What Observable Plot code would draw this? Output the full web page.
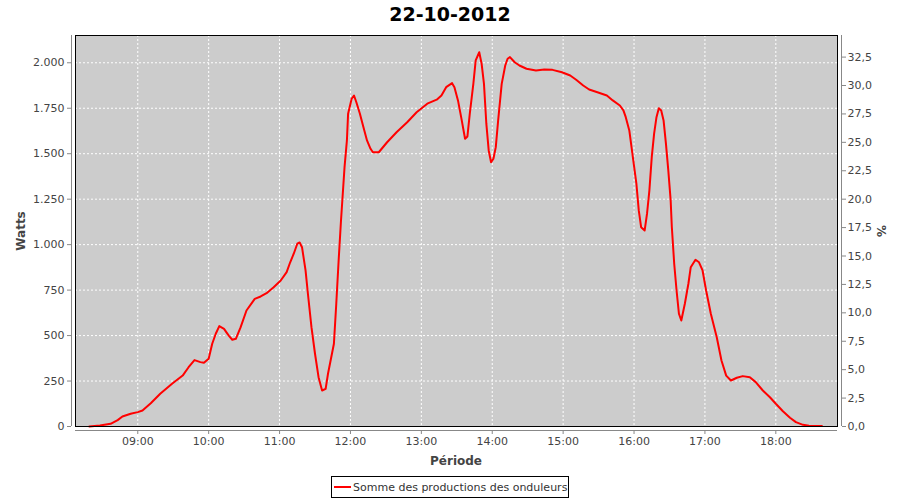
<!DOCTYPE html>
<html>
<head>
<meta charset="utf-8">
<script src="https://cdn.jsdelivr.net/npm/d3@7"></script>
<script src="https://cdn.jsdelivr.net/npm/@observablehq/plot@0.6"></script>
<style>
  html, body { margin: 0; padding: 0; background: white; }
  #wrap { position: relative; width: 900px; height: 500px; font-family: "DejaVu Sans", sans-serif; overflow: hidden; }
  #wrap svg { position: absolute; left: 0; top: 0; }
  .abs { position: absolute; white-space: nowrap; }
  #title { left: 0; width: 900px; top: 4.5px; text-align: center; font-size: 19px; line-height: 19px; font-weight: bold; color: #000; }
  #ylab { left: 21px; top: 230.5px; transform: translate(-50%, -50%) rotate(-90deg); font-size: 12px; font-weight: bold; color: #444; line-height: 12px; }
  #y2lab { left: 881px; top: 230.5px; transform: translate(-50%, -50%) rotate(90deg); font-size: 12px; font-weight: bold; color: #444; line-height: 12px; }
  #xlab { left: 456px; top: 454.5px; transform: translateX(-50%); font-size: 12px; font-weight: bold; color: #444; line-height: 12px; }
  #legend { left: 331px; top: 476px; height: 22px; box-sizing: border-box; border: 1px solid #000; display: flex; align-items: center; padding: 0 1px 0 2px; font-size: 11px; color: #333; background: white; }
  #legend .sw { display: inline-block; width: 17px; height: 2px; background: #ff0000; margin-right: 2px; }
</style>
</head>
<body>
<div id="wrap">
  <div id="title" class="abs"></div>
  <div id="ylab" class="abs"></div>
  <div id="y2lab" class="abs"></div>
  <div id="xlab" class="abs"></div>
  <div id="legend" class="abs"><span class="sw"></span><span id="legtext"></span></div>
</div>
<script>
const chartTitle = "22-10-2012";
const yLabel = "Watts";
const y2Label = "%";
const xLabel = "Période";
const seriesName = "Somme des productions des onduleurs";
const day = "2012-10-22";

const times = ["08:19","08:28","08:37","08:43","08:47","08:54","09:00","09:04","09:11","09:19","09:29","09:38","09:43","09:48","09:53","09:56","10:00","10:03","10:06","10:09","10:13","10:17","10:20","10:23","10:27","10:32","10:39","10:44","10:49","10:55","11:01","11:06","11:09","11:12","11:15","11:17","11:19","11:22","11:24","11:27","11:30","11:33","11:36","11:39","11:41","11:46","11:48","11:50","11:52","11:55","11:57","11:58","12:01","12:03","12:05","12:08","12:11","12:14","12:17","12:19","12:24","12:31","12:39","12:48","12:56","13:05","13:13","13:17","13:21","13:26","13:28","13:31","13:34","13:37","13:39","13:41","13:44","13:46","13:49","13:51","13:53","13:55","13:57","13:59","14:01","14:03","14:05","14:08","14:11","14:13","14:15","14:19","14:23","14:29","14:37","14:44","14:51","14:59","15:06","15:11","15:17","15:22","15:29","15:37","15:42","15:48","15:51","15:53","15:56","15:59","16:02","16:04","16:06","16:09","16:11","16:13","16:15","16:17","16:19","16:21","16:23","16:25","16:27","16:29","16:31","16:32","16:34","16:36","16:38","16:40","16:43","16:46","16:48","16:52","16:55","16:58","17:01","17:05","17:10","17:14","17:18","17:22","17:27","17:32","17:38","17:43","17:49","17:55","18:00","18:06","18:12","18:17","18:23","18:28","18:39"];
const watts = [0,5,15,35,55,70,79,88,128,180,235,280,326,365,354,350,372,455,510,552,537,500,477,482,545,638,702,715,733,766,803,849,903,950,1005,1012,986,858,730,546,400,271,198,207,290,455,675,913,1133,1426,1573,1720,1802,1820,1783,1720,1646,1573,1527,1508,1508,1563,1618,1673,1728,1775,1797,1820,1866,1888,1866,1793,1690,1582,1595,1720,1884,2013,2058,1995,1884,1665,1518,1453,1472,1536,1683,1884,1985,2022,2031,2003,1985,1967,1958,1963,1961,1948,1930,1907,1875,1853,1838,1820,1793,1765,1738,1701,1628,1481,1335,1188,1096,1078,1170,1298,1481,1610,1701,1750,1738,1683,1555,1408,1243,1096,895,748,620,583,675,785,876,917,903,858,748,620,491,363,280,253,268,277,271,244,198,161,125,84,48,24,9,4,3];

const hourTicks = ["09:00","10:00","11:00","12:00","13:00","14:00","15:00","16:00","17:00","18:00"];
const wattTicks = [0,250,500,750,1000,1250,1500,1750,2000];
const pctTicks = [0,2.5,5,7.5,10,12.5,15,17.5,20,22.5,25,27.5,30,32.5];
const wattsPerPct = 62.5;
const xRange = ["08:07:18", "18:52:12"];
const yMax = 2150;

document.getElementById("title").textContent = chartTitle;
document.getElementById("ylab").textContent = yLabel;
document.getElementById("y2lab").textContent = y2Label;
document.getElementById("xlab").textContent = xLabel;
document.getElementById("legtext").textContent = seriesName;

const parseHM = d3.utcParse("%Y-%m-%d %H:%M");
const parseHMS = d3.utcParse("%Y-%m-%d %H:%M:%S");
const data = times.map((t, i) => ({t: parseHM(day + " " + t), w: watts[i]}));
const hourDates = hourTicks.map(t => parseHM(day + " " + t));
const xDomain = xRange.map(t => parseHMS(day + " " + t));

const loc = d3.formatLocale({decimal: ",", thousands: ".", grouping: [3], currency: ["", "€"]});
const fmtW = loc.format(",d");
const fmtP = loc.format(",.1f");

const gridStyle = {stroke: "white", strokeOpacity: 1, strokeDasharray: "2,2", strokeWidth: 1};

const chart = Plot.plot({
  width: 900,
  height: 500,
  marginLeft: 75,
  marginRight: 63,
  marginTop: 35,
  marginBottom: 74,
  style: {fontFamily: "DejaVu Sans, sans-serif", fontSize: "11px", color: "#444", background: "transparent", overflow: "visible"},
  x: {type: "utc", domain: xDomain},
  y: {domain: [0, yMax]},
  marks: [
    Plot.frame({fill: "#cccccc", stroke: null}),
    Plot.gridX(hourDates, gridStyle),
    Plot.gridY(wattTicks, gridStyle),
    Plot.line(data, {x: "t", y: "w", stroke: "#ff0000", strokeWidth: 2}),
    Plot.frame({stroke: "#000", strokeWidth: 1}),
    Plot.ruleX([xDomain[0]], {dx: -4, stroke: "#888"}),
    Plot.ruleX([xDomain[1]], {dx: 4, stroke: "#888"}),
    Plot.ruleY([0], {dy: 4, stroke: "#888"}),
    Plot.axisY(wattTicks, {anchor: "left", tickFormat: fmtW, tickSize: 4, tickPadding: 3, dx: -4, label: null, stroke: "#888", fill: "#444"}),
    Plot.axisY(pctTicks.map(p => p * wattsPerPct), {anchor: "right", tickFormat: d => fmtP(d / wattsPerPct), tickSize: 4, tickPadding: 2, dx: 4, label: null, stroke: "#888", fill: "#444"}),
    Plot.axisX(hourDates, {anchor: "bottom", tickFormat: d3.utcFormat("%H:%M"), tickSize: 4, tickPadding: 3, dy: 4, label: null, stroke: "#888", fill: "#444"})
  ]
});
document.getElementById("wrap").prepend(chart);
</script>
</body>
</html>
